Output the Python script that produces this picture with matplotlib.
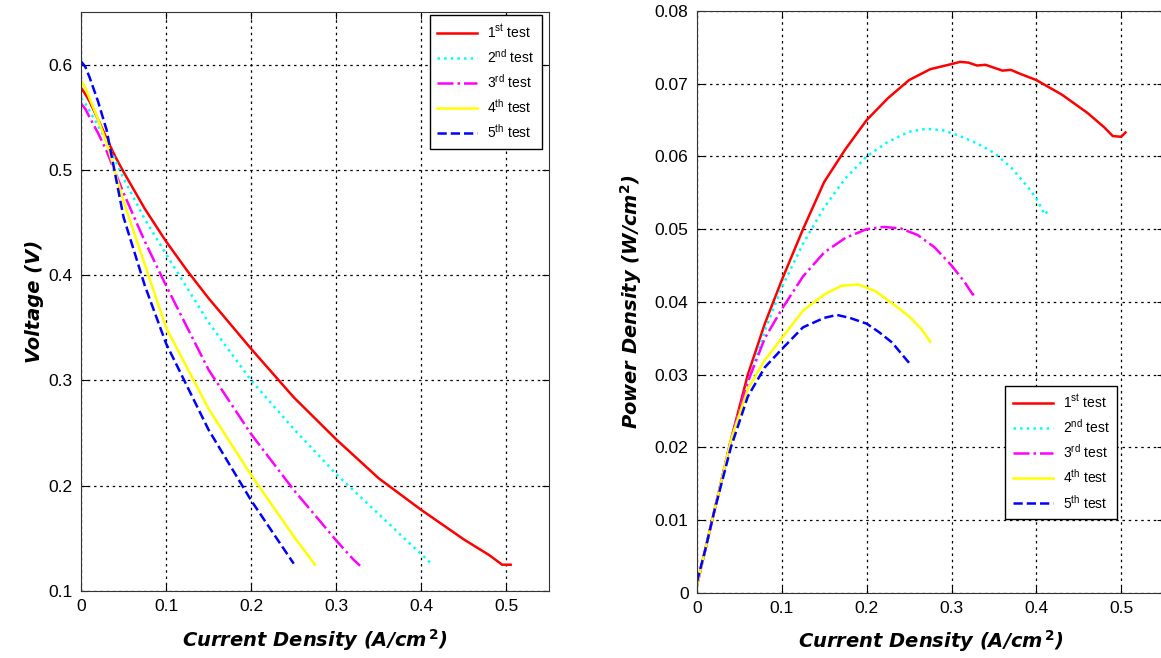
import numpy as np
import matplotlib
matplotlib.use("Agg")
import matplotlib.pyplot as plt

plt.rcParams['font.family'] = ['Liberation Sans', 'DejaVu Sans']
plt.rcParams['mathtext.fontset'] = 'custom'
plt.rcParams['mathtext.rm'] = 'Liberation Sans'

labels = ["1$^{\\rm st}$ test", "2$^{\\rm nd}$ test", "3$^{\\rm rd}$ test",
          "4$^{\\rm th}$ test", "5$^{\\rm th}$ test"]
colors = ["red", "cyan", "magenta", "yellow", "blue"]
styles = ["-", ":", "-.", "-", "--"]

# --- polarization curves (left) ---
i1_v = [0, 0.005, 0.01, 0.02, 0.03, 0.04, 0.05, 0.075, 0.1, 0.125, 0.15, 0.2,
        0.25, 0.3, 0.35, 0.4, 0.45, 0.48, 0.495, 0.505]
v1 = [0.578, 0.572, 0.565, 0.548, 0.530, 0.513, 0.498, 0.463, 0.432, 0.404, 0.378,
      0.330, 0.284, 0.244, 0.207, 0.177, 0.149, 0.134, 0.125, 0.125]
i2_v = [0, 0.005, 0.01, 0.02, 0.03, 0.05, 0.075, 0.1, 0.15, 0.2, 0.25, 0.3, 0.35,
        0.38, 0.4, 0.413]
v2 = [0.568, 0.563, 0.556, 0.542, 0.527, 0.492, 0.453, 0.42, 0.355, 0.300, 0.254,
      0.211, 0.173, 0.150, 0.135, 0.125]
i3_v = [0, 0.005, 0.01, 0.02, 0.03, 0.05, 0.075, 0.1, 0.15, 0.2, 0.25, 0.3, 0.32, 0.328]
v3 = [0.563, 0.558, 0.55, 0.535, 0.518, 0.478, 0.432, 0.39, 0.31, 0.249, 0.196,
      0.148, 0.13, 0.124]
i4_v = [0, 0.005, 0.01, 0.02, 0.03, 0.05, 0.075, 0.1, 0.15, 0.2, 0.25, 0.275]
v4 = [0.585, 0.578, 0.568, 0.548, 0.526, 0.470, 0.41, 0.35, 0.273, 0.21, 0.152, 0.125]
i5_v = [0, 0.005, 0.01, 0.02, 0.03, 0.05, 0.075, 0.1, 0.15, 0.2, 0.25]
v5 = [0.603, 0.598, 0.588, 0.565, 0.538, 0.455, 0.39, 0.335, 0.253, 0.186, 0.126]

# --- power density curves (right) ---
i1_p = [0, 0.01, 0.02, 0.04, 0.06, 0.08, 0.1, 0.125, 0.15, 0.175, 0.2, 0.225, 0.25,
        0.275, 0.3, 0.31, 0.32, 0.33, 0.34, 0.35, 0.36, 0.37, 0.38, 0.4, 0.43, 0.46,
        0.48, 0.49, 0.5, 0.505]
p1 = [0.001, 0.006, 0.011, 0.021, 0.030, 0.037, 0.043, 0.050, 0.0565, 0.061, 0.065,
      0.068, 0.0705, 0.072, 0.0727, 0.073, 0.0729, 0.0725, 0.0726, 0.0722, 0.0718,
      0.0719, 0.0714, 0.0705, 0.0685, 0.066, 0.064, 0.0628, 0.0627, 0.0633]
i2_p = [0, 0.01, 0.02, 0.04, 0.06, 0.08, 0.1, 0.125, 0.15, 0.175, 0.2, 0.225, 0.25,
        0.27, 0.29, 0.31, 0.33, 0.35, 0.37, 0.39, 0.4, 0.41, 0.413]
p2 = [0.001, 0.006, 0.011, 0.021, 0.029, 0.036, 0.042, 0.048, 0.053, 0.057, 0.060,
      0.062, 0.0634, 0.0638, 0.0636, 0.0628, 0.0618, 0.0605, 0.0585, 0.0558, 0.0542,
      0.052, 0.0525]
i3_p = [0, 0.01, 0.02, 0.04, 0.06, 0.08, 0.1, 0.125, 0.15, 0.175, 0.2, 0.22, 0.24,
        0.26, 0.28, 0.3, 0.315, 0.325, 0.33]
p3 = [0.001, 0.006, 0.011, 0.021, 0.029, 0.035, 0.039, 0.0435, 0.0468, 0.0488,
      0.0500, 0.0503, 0.0501, 0.0492, 0.0475, 0.0450, 0.0428, 0.041, 0.0413]
i4_p = [0, 0.01, 0.02, 0.04, 0.06, 0.08, 0.1, 0.125, 0.15, 0.17, 0.19, 0.21, 0.23,
        0.25, 0.265, 0.275]
p4 = [0.001, 0.006, 0.011, 0.021, 0.028, 0.032, 0.035, 0.0388, 0.041, 0.0422,
      0.0424, 0.0415, 0.0398, 0.038, 0.0362, 0.0345]
i5_p = [0, 0.01, 0.02, 0.04, 0.06, 0.08, 0.1, 0.125, 0.15, 0.165, 0.18, 0.2, 0.215,
        0.23, 0.24, 0.25]
p5 = [0.0015, 0.006, 0.011, 0.020, 0.027, 0.031, 0.0335, 0.0365, 0.0378, 0.0382,
      0.0378, 0.0370, 0.0358, 0.0344, 0.033, 0.0316]

volt = [(i1_v, v1), (i2_v, v2), (i3_v, v3), (i4_v, v4), (i5_v, v5)]
power = [(i1_p, p1), (i2_p, p2), (i3_p, p3), (i4_p, p4), (i5_p, p5)]

fig = plt.figure(figsize=(11.61, 6.58), dpi=100)
ax1 = fig.add_axes([0.0698, 0.1018, 0.403, 0.880])
ax2 = fig.add_axes([0.6003, 0.0992, 0.402, 0.8841])

label_font = dict(family='DejaVu Sans', fontsize=14, fontweight='bold', style='italic')

for ax, data in [(ax1, volt), (ax2, power)]:
    for (x, y), c, ls, lab in zip(data, colors, styles, labels):
        ax.plot(x, y, color=c, linestyle=ls, linewidth=1.8, label=lab)
    ax.set_xlim(0, 0.55)
    ax.set_xticks([0, 0.1, 0.2, 0.3, 0.4, 0.5])
    ax.set_xticklabels(["0", "0.1", "0.2", "0.3", "0.4", "0.5"])
    ax.grid(True, color='black', linestyle=(0, (2, 3)), linewidth=0.9)
    ax.tick_params(direction='in', top=True, right=True, labelsize=12.5, length=5, pad=6)
    for s in ax.spines.values():
        s.set_color('#333333')
    ax.set_xlabel("Current Density (A/cm$^{\\,\\mathbf{2}}$)", labelpad=9, **label_font)
    leg = ax.legend(fontsize=10, fancybox=False, edgecolor='black', framealpha=1,
                    handlelength=2.9, handletextpad=0.7, labelspacing=0.52,
                    borderpad=0.55)
    leg.get_frame().set_linewidth(1.0)

ax1.set_ylim(0.1, 0.65)
ax1.set_yticks([0.1, 0.2, 0.3, 0.4, 0.5, 0.6])
ax1.set_ylabel("Voltage (V)", labelpad=3, **label_font)
ax1.legend_._loc = 1
ax1.legend_.set_bbox_to_anchor((1.0, 1.006))

ax2.set_ylim(0, 0.08)
ax2.set_yticks([0, 0.01, 0.02, 0.03, 0.04, 0.05, 0.06, 0.07, 0.08])
ax2.set_yticklabels(["0", "0.01", "0.02", "0.03", "0.04", "0.05", "0.06", "0.07", "0.08"])
ax2.set_ylabel("Power Density (W/cm$^{\\mathbf{2}}$)", labelpad=8, **label_font)
ax2.legend_._loc = 3
ax2.legend_.set_bbox_to_anchor((0.645, 0.115))

fig.savefig("out.png", dpi=100)
